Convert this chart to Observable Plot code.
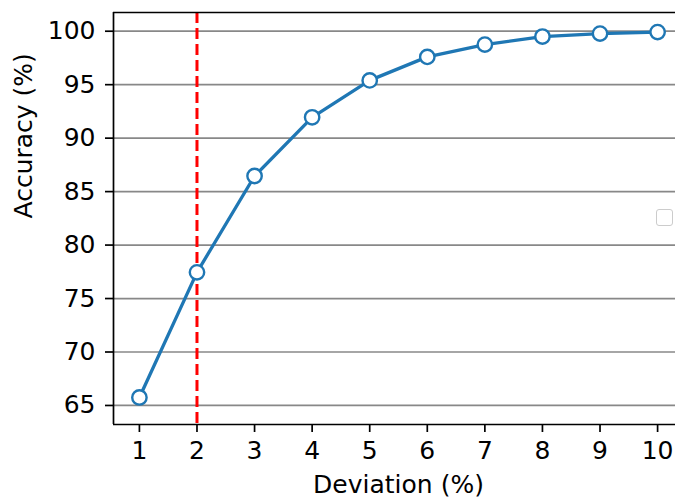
<!DOCTYPE html>
<html>
<head>
<meta charset="utf-8">
<script src="https://cdn.jsdelivr.net/npm/d3@7"></script>
<script src="https://cdn.jsdelivr.net/npm/@observablehq/plot@0.6"></script>
<style>
  html, body { margin: 0; padding: 0; background: #fff; overflow: hidden; }
  #wrap { position: relative; width: 675px; height: 498px; }
  #legend { position: absolute; left: 656px; top: 209px; width: 15px; height: 15px;
            border: 1.5px solid #cccccc; border-radius: 3px; background: #fff; }
</style>
</head>
<body>
<div id="wrap"></div>
<script>
const deviation = [1, 2, 3, 4, 5, 6, 7, 8, 9, 10];
const accuracy = [65.75, 77.45, 86.46, 91.95, 95.4, 97.6, 98.75, 99.5, 99.78, 99.92];
const xTicks = [1, 2, 3, 4, 5, 6, 7, 8, 9, 10];
const yTicks = [65, 70, 75, 80, 85, 90, 95, 100];
const thresholdX = [2];
const xLabel = "Deviation (%)";
const yLabel = "Accuracy (%)";

const data = deviation.map((d, i) => ({x: d, y: accuracy[i]}));
const xDomain = [0.55, 10.311];
const yDomain = [63.22, 101.75];
const blue = "#1f77b4";

const chart = Plot.plot({
  width: 675,
  height: 498,
  marginLeft: 113,
  marginRight: 0,
  marginTop: 12,
  marginBottom: 74,
  style: {fontFamily: "DejaVu Sans", fontSize: "25px", color: "#000", background: "#fff", overflow: "visible"},
  x: {domain: xDomain},
  y: {domain: yDomain},
  marks: [
    Plot.gridY(yTicks, {stroke: "#888888", strokeOpacity: 1, strokeWidth: 1.7}),
    Plot.ruleX(thresholdX, {stroke: "#ff0000", strokeWidth: 3, strokeDasharray: "11,5"}),
    Plot.line(data, {x: "x", y: "y", stroke: blue, strokeWidth: 3.3}),
    Plot.dot(data, {x: "x", y: "y", r: 7.2, fill: "white", stroke: blue, strokeWidth: 2.4}),
    Plot.ruleY([yDomain[0]], {stroke: "#000", strokeWidth: 1.7}),
    Plot.ruleY([yDomain[1]], {stroke: "#000", strokeWidth: 1.7}),
    Plot.ruleX([xDomain[0]], {stroke: "#000", strokeWidth: 1.7}),
    Plot.axisX(xTicks, {tickSize: 8, tickPadding: 9, strokeWidth: 1.7, label: null, tickFormat: d => String(d)}),
    Plot.axisY(yTicks, {tickSize: 8, tickPadding: 10, strokeWidth: 1.7, label: null, tickFormat: d => String(d)}),
    Plot.text([xLabel], {x: 5.5, frameAnchor: "bottom", lineAnchor: "bottom", dy: 68, text: d => d, fontSize: 25}),
    Plot.text([yLabel], {y: (yDomain[0] + yDomain[1]) / 2, frameAnchor: "left", lineAnchor: "bottom", rotate: -90, dx: -82, text: d => d, fontSize: 25})
  ]
});
const wrap = document.getElementById("wrap");
wrap.appendChild(chart);
const lg = document.createElement("div");
lg.id = "legend";
wrap.appendChild(lg);
</script>
</body>
</html>
